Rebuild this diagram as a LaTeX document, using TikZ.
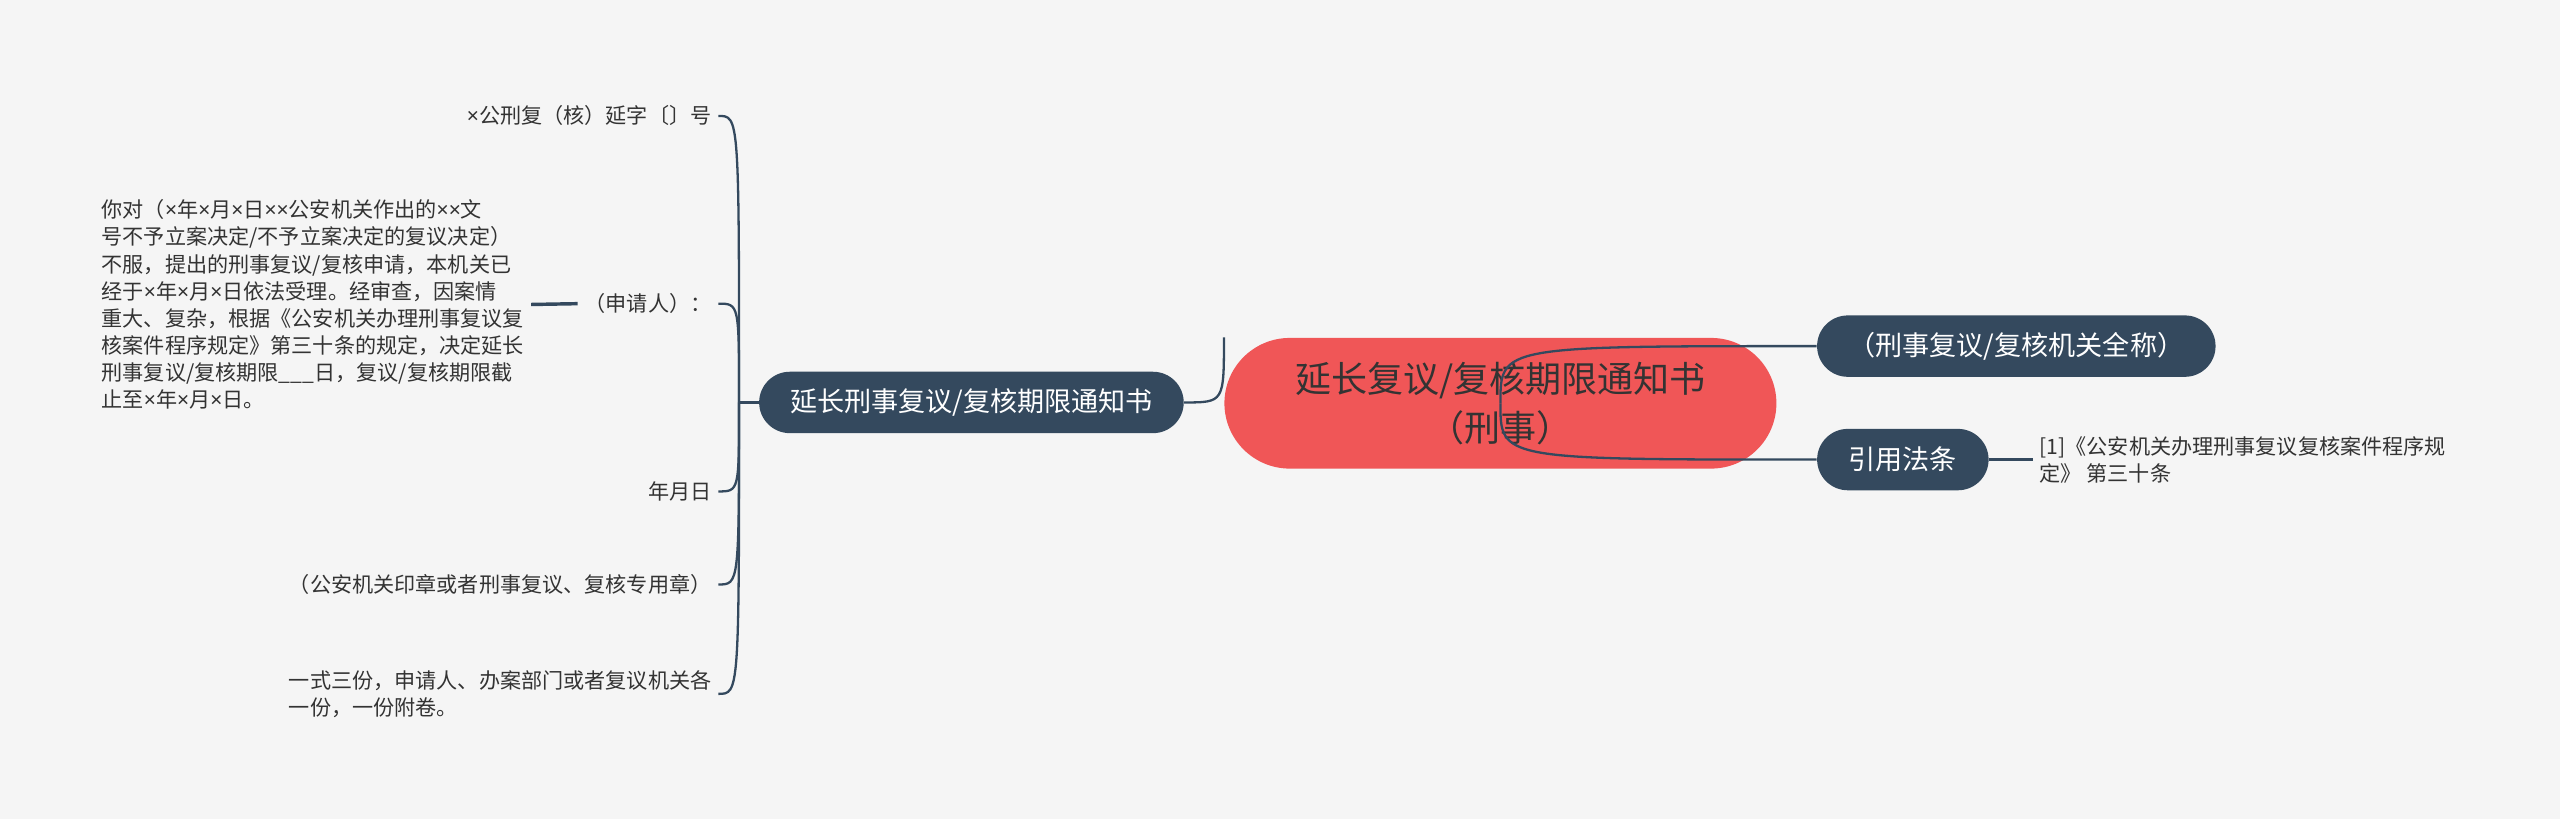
\documentclass[tikz,border=0pt]{standalone}
\usepackage{fontspec}
\setmainfont{Noto Sans CJK SC}
\newfontfamily\latinsans{Noto Sans}
\newcommand{\tms}{{\latinsans ×}}
\usepackage{xcolor}
\definecolor{bgcol}{HTML}{F5F5F5}
\definecolor{navy}{HTML}{34495E}
\definecolor{coral}{HTML}{F05657}
\definecolor{ink}{HTML}{333333}
\tikzset{
	maintopic/.style={
			fill=coral, text=ink, align=center,
			minimum width=8.45cm, minimum height=2cm, rounded corners=1cm,
			font=\fontsize{15.7pt}{21.3pt}\selectfont
		},
	topic/.style={
			fill=navy, text=white,
			minimum height=0.94cm, rounded corners=0.47cm,
			font=\fontsize{11.8pt}{14pt}\selectfont
		},
	leaf/.style={text=ink, inner sep=0.1cm, font=\fontsize{9.2pt}{11.8pt}\selectfont},
	link/.style={draw=navy, line width=1pt}
}

\begin{document}
\begin{tikzpicture}[x=0.025cm,y=-0.025cm]
	\fill[bgcol] (0,0) rectangle (1568,501.6);

	% centre and its right side
	\node[maintopic] (title) at (919,247) {延长复议/复核期限通知书\\（刑事）};
	\node[topic, minimum width=6.1cm] (agency) at (1235,212) {（刑事复议/复核机关全称）};
	\node[topic, minimum width=2.625cm] (cite) at (1165.5,281.5) {引用法条};
	\node[leaf, anchor=west, align=left] (lawref) at (1245,281.5) {[1]《公安机关办理刑事复议复核案件程序规\\定》 第三十条};

	% left branch
	\node[topic, minimum width=6.5cm] (notice) at (595,246.5) {延长刑事复议/复核期限通知书};
	\coordinate (spine) at ([xshift=-0.3cm]notice.west);

	\node[leaf, anchor=east] (docno) at (440,71) {\tms 公刑复（核）延字〔〕号};
	\node[leaf, anchor=east] (applicant) at (440,186) {（申请人）：};
	\node[leaf, anchor=east] (date) at (440,301) {年月日};
	\node[leaf, anchor=east] (seal) at (440,358) {（公安机关印章或者刑事复议、复核专用章）};
	\node[leaf, anchor=east, align=left] (copies) at (440,425) {一式三份，申请人、办案部门或者复议机关各\\一份，一份附卷。};
	\node[leaf, anchor=west, align=left] (body) at (58,186.5) {你对（\tms 年\tms 月\tms 日\tms\tms 公安机关作出的\tms\tms 文\\号不予立案决定/不予立案决定的复议决定）\\不服，提出的刑事复议/复核申请，本机关已\\经于\tms 年\tms 月\tms 日依法受理。经审查，因案情\\重大、复杂，根据《公安机关办理刑事复议复\\核案件程序规定》第三十条的规定，决定延长\\刑事复议/复核期限\_\_\_日，复议/复核期限截\\止至\tms 年\tms 月\tms 日。};

	% connectors
	\foreach \kid in {agency,cite}
		\draw[link] (title.center) .. controls (title.center |- \kid.west) .. (\kid.west);
	\draw[link] (title.north west) .. controls (title.north west |- notice.east) .. (notice.east);
	\draw[link] (cite.east) -- (lawref.west);
	\draw[link] (notice.west) -- (spine);
	\foreach \leaf in {docno,applicant,date,seal,copies}
		\draw[link] (spine) .. controls (spine |- \leaf.east) .. (\leaf.east);
	\draw[link, line width=1.5pt] (body.east) -- (applicant.west);
\end{tikzpicture}
\end{document}
